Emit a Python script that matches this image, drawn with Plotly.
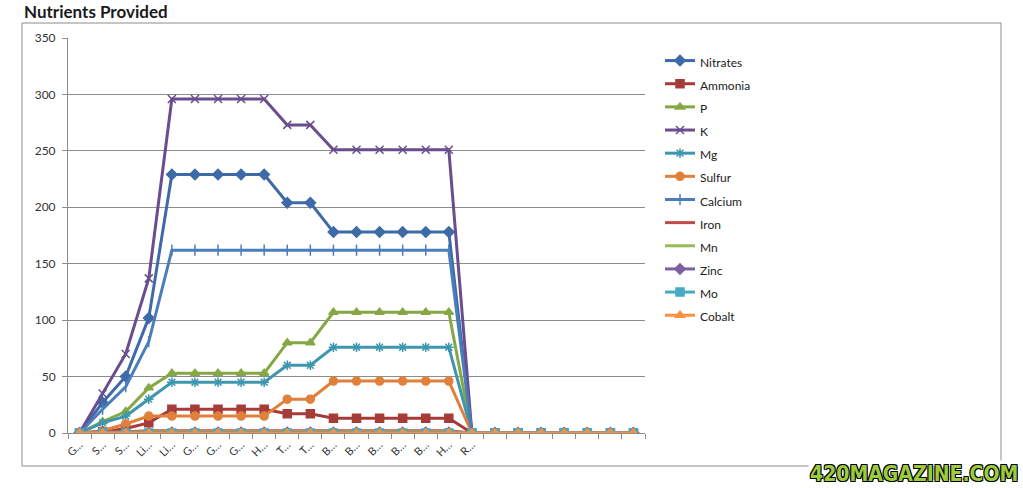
import plotly.graph_objects as go

categories = ["G…", "S…", "S…", "Li…", "Li…", "G…", "G…", "G…", "H…", "T…", "T…",
              "B…", "B…", "B…", "B…", "B…", "H…", "R…", "", "", "", "", "", "", ""]

nitrates = [0, 27, 50, 102, 229, 229, 229, 229, 229, 204, 204, 178, 178, 178, 178, 178, 178, 0, 0, 0, 0, 0, 0, 0, 0]
ammonia  = [0, 1, 4, 9, 21, 21, 21, 21, 21, 17, 17, 13, 13, 13, 13, 13, 13, 0, 0, 0, 0, 0, 0, 0, 0]
p_vals   = [0, 10, 19, 40, 53, 53, 53, 53, 53, 80, 80, 107, 107, 107, 107, 107, 107, 0, 0, 0, 0, 0, 0, 0, 0]
k_vals   = [0, 35, 70, 137, 296, 296, 296, 296, 296, 273, 273, 251, 251, 251, 251, 251, 251, 0, 0, 0, 0, 0, 0, 0, 0]
mg       = [0, 9, 15, 30, 45, 45, 45, 45, 45, 60, 60, 76, 76, 76, 76, 76, 76, 0, 0, 0, 0, 0, 0, 0, 0]
sulfur   = [0, 2, 8, 15, 15, 15, 15, 15, 15, 30, 30, 46, 46, 46, 46, 46, 46, 0, 0, 0, 0, 0, 0, 0, 0]
calcium  = [0, 21, 41, 81, 162, 162, 162, 162, 162, 162, 162, 162, 162, 162, 162, 162, 162, 0, 0, 0, 0, 0, 0, 0, 0]
iron     = [0, 1, 1, 2, 2, 2, 2, 2, 2, 2, 2, 2, 2, 2, 2, 2, 2, 0, 0, 0, 0, 0, 0, 0, 0]
mn       = [0, 0.5, 1, 1, 1, 1, 1, 1, 1, 1, 1, 1, 1, 1, 1, 1, 1, 0, 0, 0, 0, 0, 0, 0, 0]
zinc     = [0, 0.5, 0.5, 0.5, 0.5, 0.5, 0.5, 0.5, 0.5, 0.5, 0.5, 0.5, 0.5, 0.5, 0.5, 0.5, 0.5, 0, 0, 0, 0, 0, 0, 0, 0]
mo       = [0] * 25
cobalt   = [0] * 25

series = [
    ("Nitrates", nitrates, "#3E6AA8", "diamond"),
    ("Ammonia", ammonia, "#A63C38", "square"),
    ("P", p_vals, "#86A844", "triangle-up"),
    ("K", k_vals, "#6A4D8E", "x-thin-open"),
    ("Mg", mg, "#3D97AF", "asterisk-open"),
    ("Sulfur", sulfur, "#E0803A", "circle"),
    ("Calcium", calcium, "#4A7EBB", "line-ns-open"),
    ("Iron", iron, "#BE4B48", None),
    ("Mn", mn, "#98B954", None),
    ("Zinc", zinc, "#7D60A0", "diamond"),
    ("Mo", mo, "#46AAC5", "square"),
    ("Cobalt", cobalt, "#F69240", "triangle-up"),
]

x = list(range(len(categories)))

fig = go.Figure()
for name, vals, color, sym in series:
    label = "<span style='font-size:12px'>" + name + "</span>"
    if sym is None:
        fig.add_trace(go.Scatter(x=x, y=vals, name=label, mode="lines",
                                 line=dict(color=color, width=3)))
    else:
        fig.add_trace(go.Scatter(x=x, y=vals, name=label, mode="lines+markers",
                                 line=dict(color=color, width=3),
                                 marker=dict(symbol=sym, size=8, color=color,
                                             line=dict(color=color, width=1.5))))

px_w = 645 - 68
px_h = 433 - 38

fig.update_layout(
    width=1023, height=488,
    margin=dict(l=68, r=1023 - 645, t=38, b=488 - 433),
    paper_bgcolor="white", plot_bgcolor="white",
    font=dict(family="Lato, Open Sans, sans-serif", size=11, color="#333333"),
    title=dict(text="<b>Nutrients Provided</b>", x=24 / 1023, xanchor="left",
               xref="container", yref="container", y=1 - 12 / 488, yanchor="middle",
               pad=dict(t=0, b=0, l=0, r=0),
               font=dict(size=17, color="#1a1a1a", family="Lato, Open Sans, sans-serif")),
    showlegend=True,
    legend=dict(x=(660 - 68) / px_w, xanchor="left", y=1 - (44 - 38) / px_h, yanchor="top",
                font=dict(size=15.5, color="#222222"), bgcolor="rgba(0,0,0,0)",
                tracegroupgap=0),
    xaxis=dict(range=[-0.5, 24.5], tickmode="array", tickvals=x, ticktext=categories,
               tickangle=-45, tickfont=dict(size=11, color="#333333"),
               showgrid=False, zeroline=False, showline=True, linecolor="#8C8C8C", linewidth=1,
               ticks="", fixedrange=True,
               minor=dict(ticks="outside", tick0=0.5, dtick=1, ticklen=5, tickcolor="#8C8C8C",
                          showgrid=False)),
    yaxis=dict(range=[0, 350], tickmode="linear", tick0=0, dtick=50,
               showgrid=True, gridcolor="#8C8C8C", gridwidth=1, zeroline=False,
               showline=True, linecolor="#8C8C8C", linewidth=1,
               ticks="outside", ticklen=5, tickcolor="#8C8C8C", ticklabelstandoff=4,
               tickfont=dict(size=12, color="#333333")),
)

# chart area border
fig.add_shape(type="rect", xref="paper", yref="paper",
              x0=(22 - 68) / px_w, x1=(1001 - 68) / px_w,
              y0=(433 - 466) / px_h, y1=(433 - 23) / px_h,
              line=dict(color="#8C8C8C", width=1), fillcolor="rgba(0,0,0,0)", layer="below")

# watermark
fig.add_annotation(text="<b>420MAGAZINE.COM</b>", xref="paper", yref="paper",
                   x=(1020 - 68) / px_w, y=(433 - 488) / px_h, xanchor="right", yanchor="bottom",
                   showarrow=False, bgcolor="white",
                   font=dict(family="Liberation Sans Narrow, DejaVu Sans Condensed, DejaVu Sans",
                             size=21, color="#9CCC3C",
                             shadow="1px 1px 0 #000, -1px -1px 0 #000, 1px -1px 0 #000, -1px 1px 0 #000"))

fig.write_html("out.html", config={"displayModeBar": False},
               post_script="document.body.style.margin='0';")
